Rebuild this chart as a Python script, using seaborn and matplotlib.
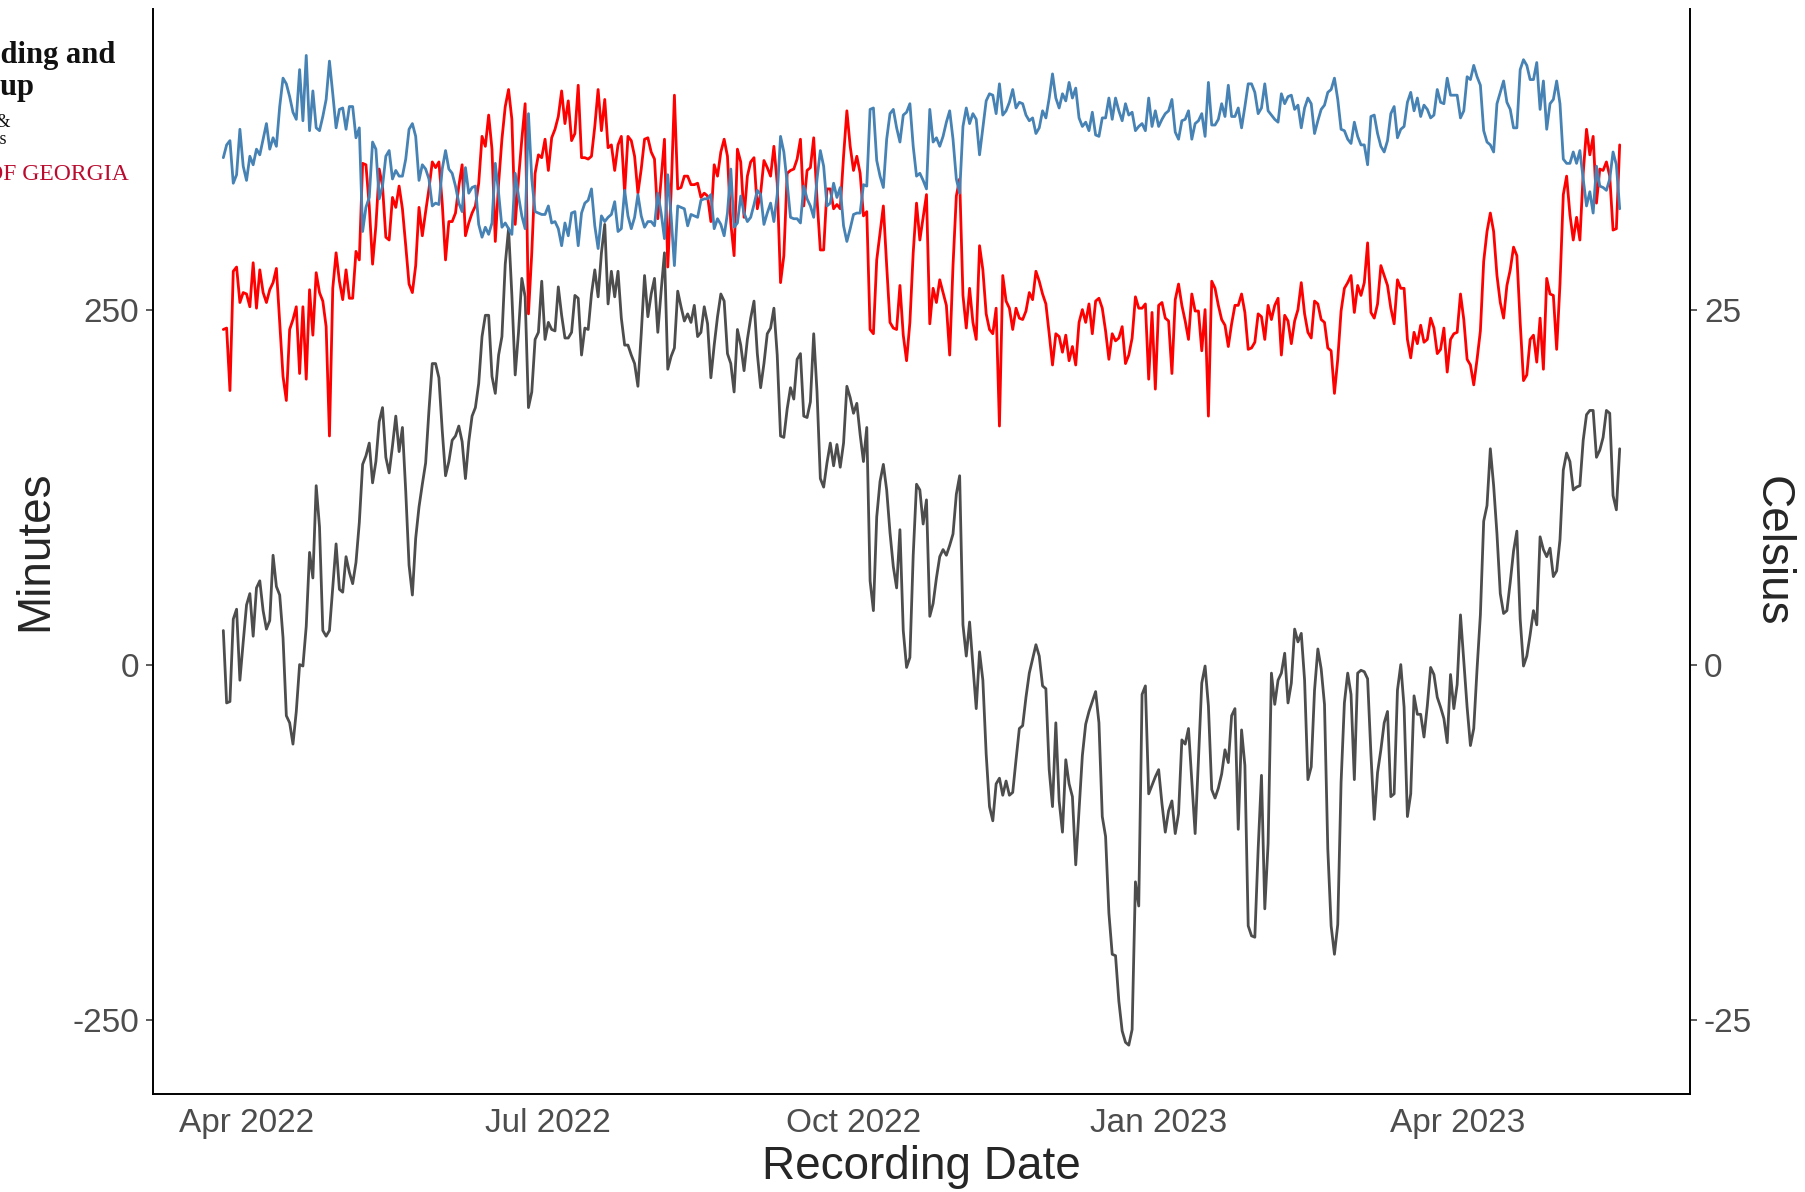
import numpy as np
import pandas as pd
import matplotlib
matplotlib.use("Agg")
import matplotlib.pyplot as plt
import matplotlib.dates as mdates
import seaborn as sns

# ---------------- data (daily) ----------------
start_date = "2022-03-25"

blue_minutes = [
    357,366,369,339,345,377,351,341,358,352,363,359,370,381,363,371,365,393,413,409,
    400,389,384,419,383,429,376,404,378,376,386,398,425,402,378,391,392,377,393,393,
    371,378,305,322,329,368,363,328,337,358,362,342,348,344,344,356,377,381,372,341,
    352,349,342,323,325,324,349,362,349,346,337,325,319,350,332,336,337,310,301,308,
    303,311,353,332,308,
    311,307,303,346,330,316,307,388,342,319,318,317,317,323,311,312,307,295,311,302,
    318,319,295,318,325,327,335,309,293,316,312,315,317,326,305,307,334,316,307,315,
    331,316,308,312,312,309,332,318,300,345,316,281,323,322,321,309,317,316,315,327,
    328,328,331,307,314,310,302,318,349,308,311,330,318,312,315,324,334,331,310,318,
    325,312,331,372,361,339,
    315,314,314,311,337,328,323,315,342,362,351,323,325,339,329,336,309,298,307,317,
    318,318,338,337,391,392,355,344,336,370,388,391,378,368,387,389,395,365,344,346,
    341,335,391,368,371,365,372,382,390,370,342,332,379,392,381,388,384,359,378,397,
    402,401,388,409,387,390,396,405,392,396,395,387,383,385,374,378,390,385,399,416,
    399,392,402,397,410,
    399,406,385,379,382,376,389,373,372,385,385,399,384,399,390,383,395,387,389,376,
    379,381,376,399,379,390,379,384,388,390,398,375,370,383,384,390,370,381,383,388,
    372,410,380,380,384,395,386,408,386,386,392,378,393,409,409,403,388,392,409,390,
    387,384,382,402,395,400,401,391,394,378,392,399,395,374,383,391,394,403,405,413,
    398,377,376,370,367,382,372,
    366,366,352,386,387,374,365,361,369,388,393,371,377,379,396,403,390,399,386,394,
    391,385,387,405,396,395,413,401,401,401,385,390,414,412,422,414,408,376,368,366,
    361,395,403,411,396,391,378,378,419,426,422,412,412,424,391,411,377,395,398,411,
    395,356,353,353,361,353,362,342,323,333,318,351,337,336,334,342,361,352,321,
]

red_minutes = [
    236,237,193,277,280,255,262,261,252,283,251,278,262,255,264,269,279,241,203,186,
    236,243,252,205,252,201,264,232,276,262,256,238,161,265,290,270,257,278,258,258,
    291,285,353,352,323,282,309,349,337,301,299,329,322,337,321,295,268,262,281,322,
    302,319,335,354,350,354,325,285,312,312,318,337,352,302,311,318,323,339,372,365,
    387,363,298,339,370,
    393,405,384,310,342,370,395,247,290,346,359,357,370,348,371,377,386,404,381,397,
    369,374,408,357,357,356,358,379,405,376,398,364,366,348,366,372,332,372,369,358,
    332,349,370,371,361,356,314,342,370,280,332,401,335,336,344,344,338,338,339,329,
    332,330,312,352,344,361,370,358,311,288,363,354,315,344,354,357,321,332,355,350,
    344,365,339,269,288,346,
    348,349,356,370,323,348,350,371,328,292,292,335,335,321,324,321,358,390,365,348,
    358,346,316,319,236,233,285,304,323,281,241,237,236,267,232,214,241,290,325,299,
    315,331,240,265,255,271,262,253,218,281,330,342,260,237,265,241,229,295,278,247,
    236,233,251,168,274,256,251,236,251,244,243,249,262,257,277,270,261,254,233,211,
    233,231,220,232,214,
    224,211,241,250,241,254,233,256,258,251,235,215,233,228,230,238,212,218,230,259,
    251,251,254,201,248,194,253,255,244,242,205,257,268,253,242,229,261,249,249,221,
    250,175,270,265,253,243,239,224,240,253,253,261,248,222,223,227,247,245,229,253,
    243,253,258,218,246,242,226,242,250,269,247,234,230,256,254,243,241,223,221,191,
    215,249,265,269,274,248,267,
    260,269,297,248,244,254,281,274,267,251,240,271,265,265,229,216,234,226,239,227,
    229,244,237,219,222,237,206,229,233,234,261,243,215,211,197,215,235,284,305,318,
    305,274,255,244,267,278,294,288,241,200,204,229,232,213,244,208,272,261,260,222,
    268,331,344,317,299,315,299,346,377,359,372,325,349,348,354,344,306,307,366,
]

# plotted on the minutes scale (Celsius x 10)
gray_minutes = [
    24,-27,-26,32,39,-11,16,42,50,20,54,59,38,25,31,77,55,49,19,-36,
    -41,-56,-33,0,-1,27,79,61,126,97,24,20,24,54,85,53,51,76,65,57,
    72,100,141,147,156,128,143,171,181,146,135,154,175,150,167,122,70,49,89,111,
    127,142,179,212,212,202,165,133,143,158,161,168,157,131,157,175,181,198,231,246,
    246,203,191,218,231,
    282,307,260,204,234,272,259,181,192,229,234,270,229,241,236,235,266,246,230,230,
    234,260,258,218,237,236,261,278,259,290,310,254,277,259,277,244,225,225,218,212,
    196,233,274,245,261,272,234,263,290,208,217,223,263,252,242,247,241,253,231,234,
    252,240,202,225,245,261,256,219,212,192,236,225,207,229,244,256,219,195,212,233,
    237,251,218,161,160,180,
    195,187,215,219,175,174,185,233,192,131,125,142,156,140,155,139,156,196,188,177,
    184,162,143,167,59,38,104,129,141,123,93,69,54,95,24,-2,5,77,127,123,
    99,116,34,43,61,76,81,77,84,92,120,133,28,6,30,0,-31,9,-11,
    -63,-100,-110,-84,-80,-92,-82,-92,-90,-67,-45,-43,-23,-6,4,14,6,-15,-17,-74,
    -100,-41,-96,-118,-67,-84,
    -93,-141,-102,-64,-42,-33,-26,-19,-41,-107,-121,-175,-204,-205,-237,-258,-266,-268,-257,-153,
    -170,-21,-15,-91,-85,-79,-74,-98,-118,-103,-96,-119,-105,-53,-56,-45,-82,-119,-67,-13,
    -1,-29,-88,-94,-87,-77,-60,-69,-36,-31,-116,-46,-71,-184,-191,-192,-130,-78,-172,-126,
    -6,-28,-11,-6,8,-27,-13,25,16,22,-11,-81,-72,-18,11,-3,-28,-130,-184,-204,
    -183,-83,-27,-6,-21,-81,-6,
    -4,-5,-10,-63,-109,-76,-60,-41,-33,-93,-91,-18,0,-30,-107,-91,-22,-35,-35,-51,
    -29,-2,-7,-23,-30,-38,-55,-7,-31,-14,35,2,-30,-57,-45,-3,35,101,112,152,
    126,92,50,36,38,58,80,94,32,-1,6,21,38,28,90,81,76,82,62,66,
    88,137,149,143,123,125,126,158,176,179,179,146,151,160,179,177,119,109,152,
]

x_tick_dates = ["2022-04-01", "2022-07-01", "2022-10-01", "2023-01-01", "2023-04-01"]
x_tick_labels = ["Apr 2022", "Jul 2022", "Oct 2022", "Jan 2023", "Apr 2023"]
left_ticks = [-250, 0, 250]
right_ticks = [-25, 0, 25]

# ---------------- figure ----------------
sns.set_style("white")
plt.rcParams["font.family"] = ["Liberation Sans", "DejaVu Sans"]

dates = pd.date_range(start_date, periods=len(blue_minutes), freq="D")
df = pd.DataFrame({"date": dates, "blue": blue_minutes,
                   "red": red_minutes, "gray": gray_minutes})

W, H = 1806, 1192
fig = plt.figure(figsize=(W / 100, H / 100), dpi=100)
ax_l, ax_r, ax_t, ax_b = 153, 1690, 9, 1094
ax = fig.add_axes([ax_l / W, 1 - ax_b / H, (ax_r - ax_l) / W, (ax_b - ax_t) / H])

lw = 2.0
sns.lineplot(data=df, x="date", y="gray", color="#4D4D4D", lw=lw, ax=ax)
sns.lineplot(data=df, x="date", y="red", color="#FF0000", lw=lw, ax=ax)
sns.lineplot(data=df, x="date", y="blue", color="#4682B4", lw=lw, ax=ax)

ylim = (-302.4, 461.7)
ax.set_ylim(*ylim)
ref = pd.Timestamp("2022-04-01")
ax.set_xlim(ref + pd.Timedelta(days=-28.2), ref + pd.Timedelta(days=435.2))
ax.set_xlabel("")
ax.set_ylabel("")

ax.set_xticks([pd.Timestamp(d) for d in x_tick_dates])
ax.set_xticklabels(x_tick_labels)
ax.set_yticks(left_ticks)
ax.set_yticklabels([str(t) for t in left_ticks])

ax2 = ax.twinx()
ax2.set_ylim(ylim[0] / 10, ylim[1] / 10)
ax2.set_yticks(right_ticks)
ax2.set_yticklabels([str(t) for t in right_ticks])

for a in (ax, ax2):
    a.spines["top"].set_visible(False)
    for s in ("left", "right", "bottom"):
        a.spines[s].set_color("black")
        a.spines[s].set_linewidth(1.4)
    a.tick_params(axis="both", which="major", length=5, width=1.1,
                  color="#333333", labelcolor="#4D4D4D", labelsize=24, pad=5)
ax.spines["right"].set_visible(False)
ax2.spines["left"].set_visible(False)
ax2.spines["bottom"].set_visible(False)

# axis titles
fig.text(921 / W, 1 - 1179 / H, "Recording Date", fontsize=33, ha="center", va="baseline")
fig.text(35 / W, 1 - 551 / H, "Minutes", fontsize=33, rotation=90, ha="center", va="center")
fig.text(1772 / W, 1 - 551 / H, "Celsius", fontsize=33, rotation=270, ha="center", va="center")

# clipped logo text at the top left (cut off by the figure edge, as in the reference)
serif = ["Liberation Serif", "DejaVu Serif"]
fig.text(115 / W, 1 - 63 / H, "Bioacoustics Recording and", fontsize=22, fontweight="bold",
         family=serif, ha="right", va="baseline", color="#111111")
fig.text(34 / W, 1 - 95 / H, "Analysis Group", fontsize=22, fontweight="bold",
         family=serif, ha="right", va="baseline", color="#111111")
fig.text(10 / W, 1 - 127 / H, "Forestry &", fontsize=13, family=serif,
         ha="right", va="baseline", color="#111111")
fig.text(6 / W, 1 - 144 / H, "Natural Resources", fontsize=13, family=serif,
         ha="right", va="baseline", color="#111111")
fig.text(129 / W, 1 - 180 / H, "UNIVERSITY OF GEORGIA", fontsize=17, family=serif,
         ha="right", va="baseline", color="#BA0C2F")

fig.savefig("out.png", dpi=100)
